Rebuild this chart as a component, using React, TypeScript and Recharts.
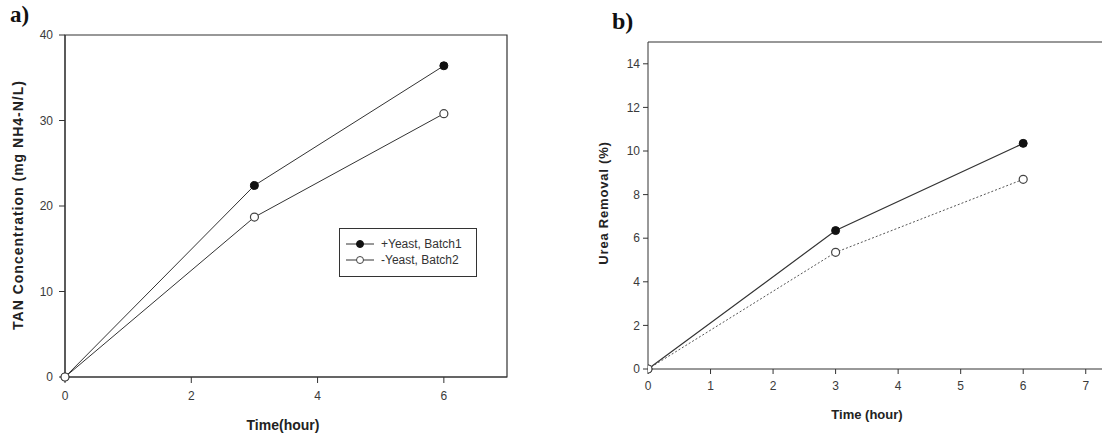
import React from "react";
import {
    LineChart,
    Line,
    XAxis,
    YAxis,
    Legend,
    ReferenceArea,
    ReferenceLine
} from "recharts";

// time points (hour)
const hours = [0, 3, 6];

// panel a: TAN concentration (mg NH4-N/L)
const tanWithYeast = [0, 22.4, 36.4];
const tanNoYeast = [0, 18.7, 30.8];

// panel b: urea removal (%)
const ureaWithYeast = [0, 6.35, 10.35];
const ureaNoYeast = [0, 5.35, 8.7];

const xTicksA = [0, 2, 4, 6];
const yTicksA = [0, 10, 20, 30, 40];
const xTicksB = [0, 1, 2, 3, 4, 5, 6, 7];
const yTicksB = [0, 2, 4, 6, 8, 10, 12, 14];

const seriesNames = ["+Yeast, Batch1", "-Yeast, Batch2"];

const dataA = hours.map((h, i) => ({ hour: h, yeast: tanWithYeast[i], noYeast: tanNoYeast[i] }));
const dataB = hours.map((h, i) => ({ hour: h, yeast: ureaWithYeast[i], noYeast: ureaNoYeast[i] }));

const ink = "#333";
const font = "'Liberation Sans', Arial, sans-serif";
const tickStyle = { fill: "#3a3a3a", fontSize: 12, fontFamily: font };

const filledDot = { r: 4, fill: "#111", stroke: "#111", strokeWidth: 1 };
const openDot = { r: 4, fill: "#fff", stroke: "#444", strokeWidth: 1.2, strokeDasharray: "0" };

function LegendBox() {
    const row = (filled: boolean, text: string) => (
        <div style={{ display: "flex", alignItems: "center", height: 16 }}>
            <svg width={30} height={10} style={{ marginRight: 5 }}>
                <line x1={0} y1={5} x2={28} y2={5} stroke={ink} strokeWidth={1} />
                <circle cx={14} cy={5} r={3.5} fill={filled ? "#111" : "#fff"} stroke={filled ? "#111" : "#444"} strokeWidth={1} />
            </svg>
            <span style={{ fontFamily: font, fontSize: 12, color: "#333" }}>{text}</span>
        </div>
    );
    return (
        <div style={{ border: "1px solid #333", padding: "7px 6px", boxSizing: "border-box", height: 49 }}>
            {row(true, seriesNames[0])}
            {row(false, seriesNames[1])}
        </div>
    );
}

const axisTitle: React.CSSProperties = {
    position: "absolute",
    fontFamily: font,
    fontWeight: "bold",
    color: "#222",
    whiteSpace: "nowrap"
};

const panelTitle: React.CSSProperties = {
    position: "absolute",
    fontFamily: "'Liberation Serif', 'Times New Roman', serif",
    fontWeight: "bold",
    fontSize: 23,
    color: "#111"
};

export default function App() {
    return (
        <div style={{ position: "absolute", left: 0, top: 0, width: 1102, height: 437, overflow: "hidden", background: "#fff" }}>
            {/* panel a */}
            <div style={{ position: "absolute", left: 0, top: 0 }}>
                <LineChart
                    width={560}
                    height={437}
                    data={dataA}
                    margin={{ top: 35, right: 53, bottom: 10, left: 15 }}
                >
                    <XAxis
                        dataKey="hour"
                        type="number"
                        domain={[0, 7]}
                        ticks={xTicksA}
                        height={50}
                        tickSize={6}
                        tickMargin={8}
                        tick={tickStyle}
                        stroke={ink}
                    />
                    <YAxis
                        type="number"
                        domain={[0, 40]}
                        ticks={yTicksA}
                        width={50}
                        tickSize={6}
                        tickMargin={6}
                        tick={tickStyle}
                        stroke={ink}
                    />
                    <ReferenceArea x1={0} x2={7} y1={0} y2={40} fill="none" stroke={ink} strokeWidth={1.2} />
                    <Legend
                        layout="horizontal"
                        verticalAlign="middle"
                        align="center"
                        content={() => <LegendBox />}
                        wrapperStyle={{ position: "absolute", left: 339, top: 228, width: 138 }}
                    />
                    <Line dataKey="yeast" name={seriesNames[0]} stroke={ink} strokeWidth={1} dot={filledDot} isAnimationActive={false} />
                    <Line dataKey="noYeast" name={seriesNames[1]} stroke={ink} strokeWidth={1} dot={openDot} isAnimationActive={false} />
                </LineChart>
            </div>
            <div style={{ ...panelTitle, left: 10, top: 2 }}>a)</div>
            <div style={{ ...axisTitle, fontSize: 14, left: 283, top: 425, transform: "translate(-50%, -50%)" }}>Time(hour)</div>
            <div style={{ ...axisTitle, fontSize: 14, letterSpacing: 1, left: 18, top: 205, transform: "translate(-50%, -50%) rotate(-90deg)" }}>
                TAN Concentration (mg NH4-N/L)
            </div>

            {/* panel b */}
            <div style={{ position: "absolute", left: 560, top: 0 }}>
                <LineChart
                    width={542}
                    height={437}
                    data={dataB}
                    margin={{ top: 42, right: 0, bottom: 28, left: 38 }}
                >
                    <XAxis
                        dataKey="hour"
                        type="number"
                        domain={[0, 7.26]}
                        ticks={xTicksB}
                        allowDataOverflow
                        height={40}
                        tickSize={5}
                        tickMargin={7}
                        tick={tickStyle}
                        stroke={ink}
                    />
                    <YAxis
                        type="number"
                        domain={[0, 15]}
                        ticks={yTicksB}
                        width={50}
                        tickSize={5}
                        tickMargin={3}
                        tick={tickStyle}
                        stroke={ink}
                    />
                    <ReferenceLine y={15} stroke={ink} strokeWidth={1.2} />
                    <Line dataKey="yeast" name={seriesNames[0]} stroke={ink} strokeWidth={1.2} dot={filledDot} isAnimationActive={false} />
                    <Line dataKey="noYeast" name={seriesNames[1]} stroke="#555" strokeWidth={1} strokeDasharray="2 2" dot={openDot} isAnimationActive={false} />
                </LineChart>
            </div>
            <div style={{ ...panelTitle, left: 612, top: 8, fontSize: 24 }}>b)</div>
            <div style={{ ...axisTitle, fontSize: 13, left: 867, top: 414, transform: "translate(-50%, -50%)" }}>Time (hour)</div>
            <div style={{ ...axisTitle, fontSize: 13, letterSpacing: 0.8, left: 603, top: 203, transform: "translate(-50%, -50%) rotate(-90deg)" }}>
                Urea Removal (%)
            </div>
        </div>
    );
}
